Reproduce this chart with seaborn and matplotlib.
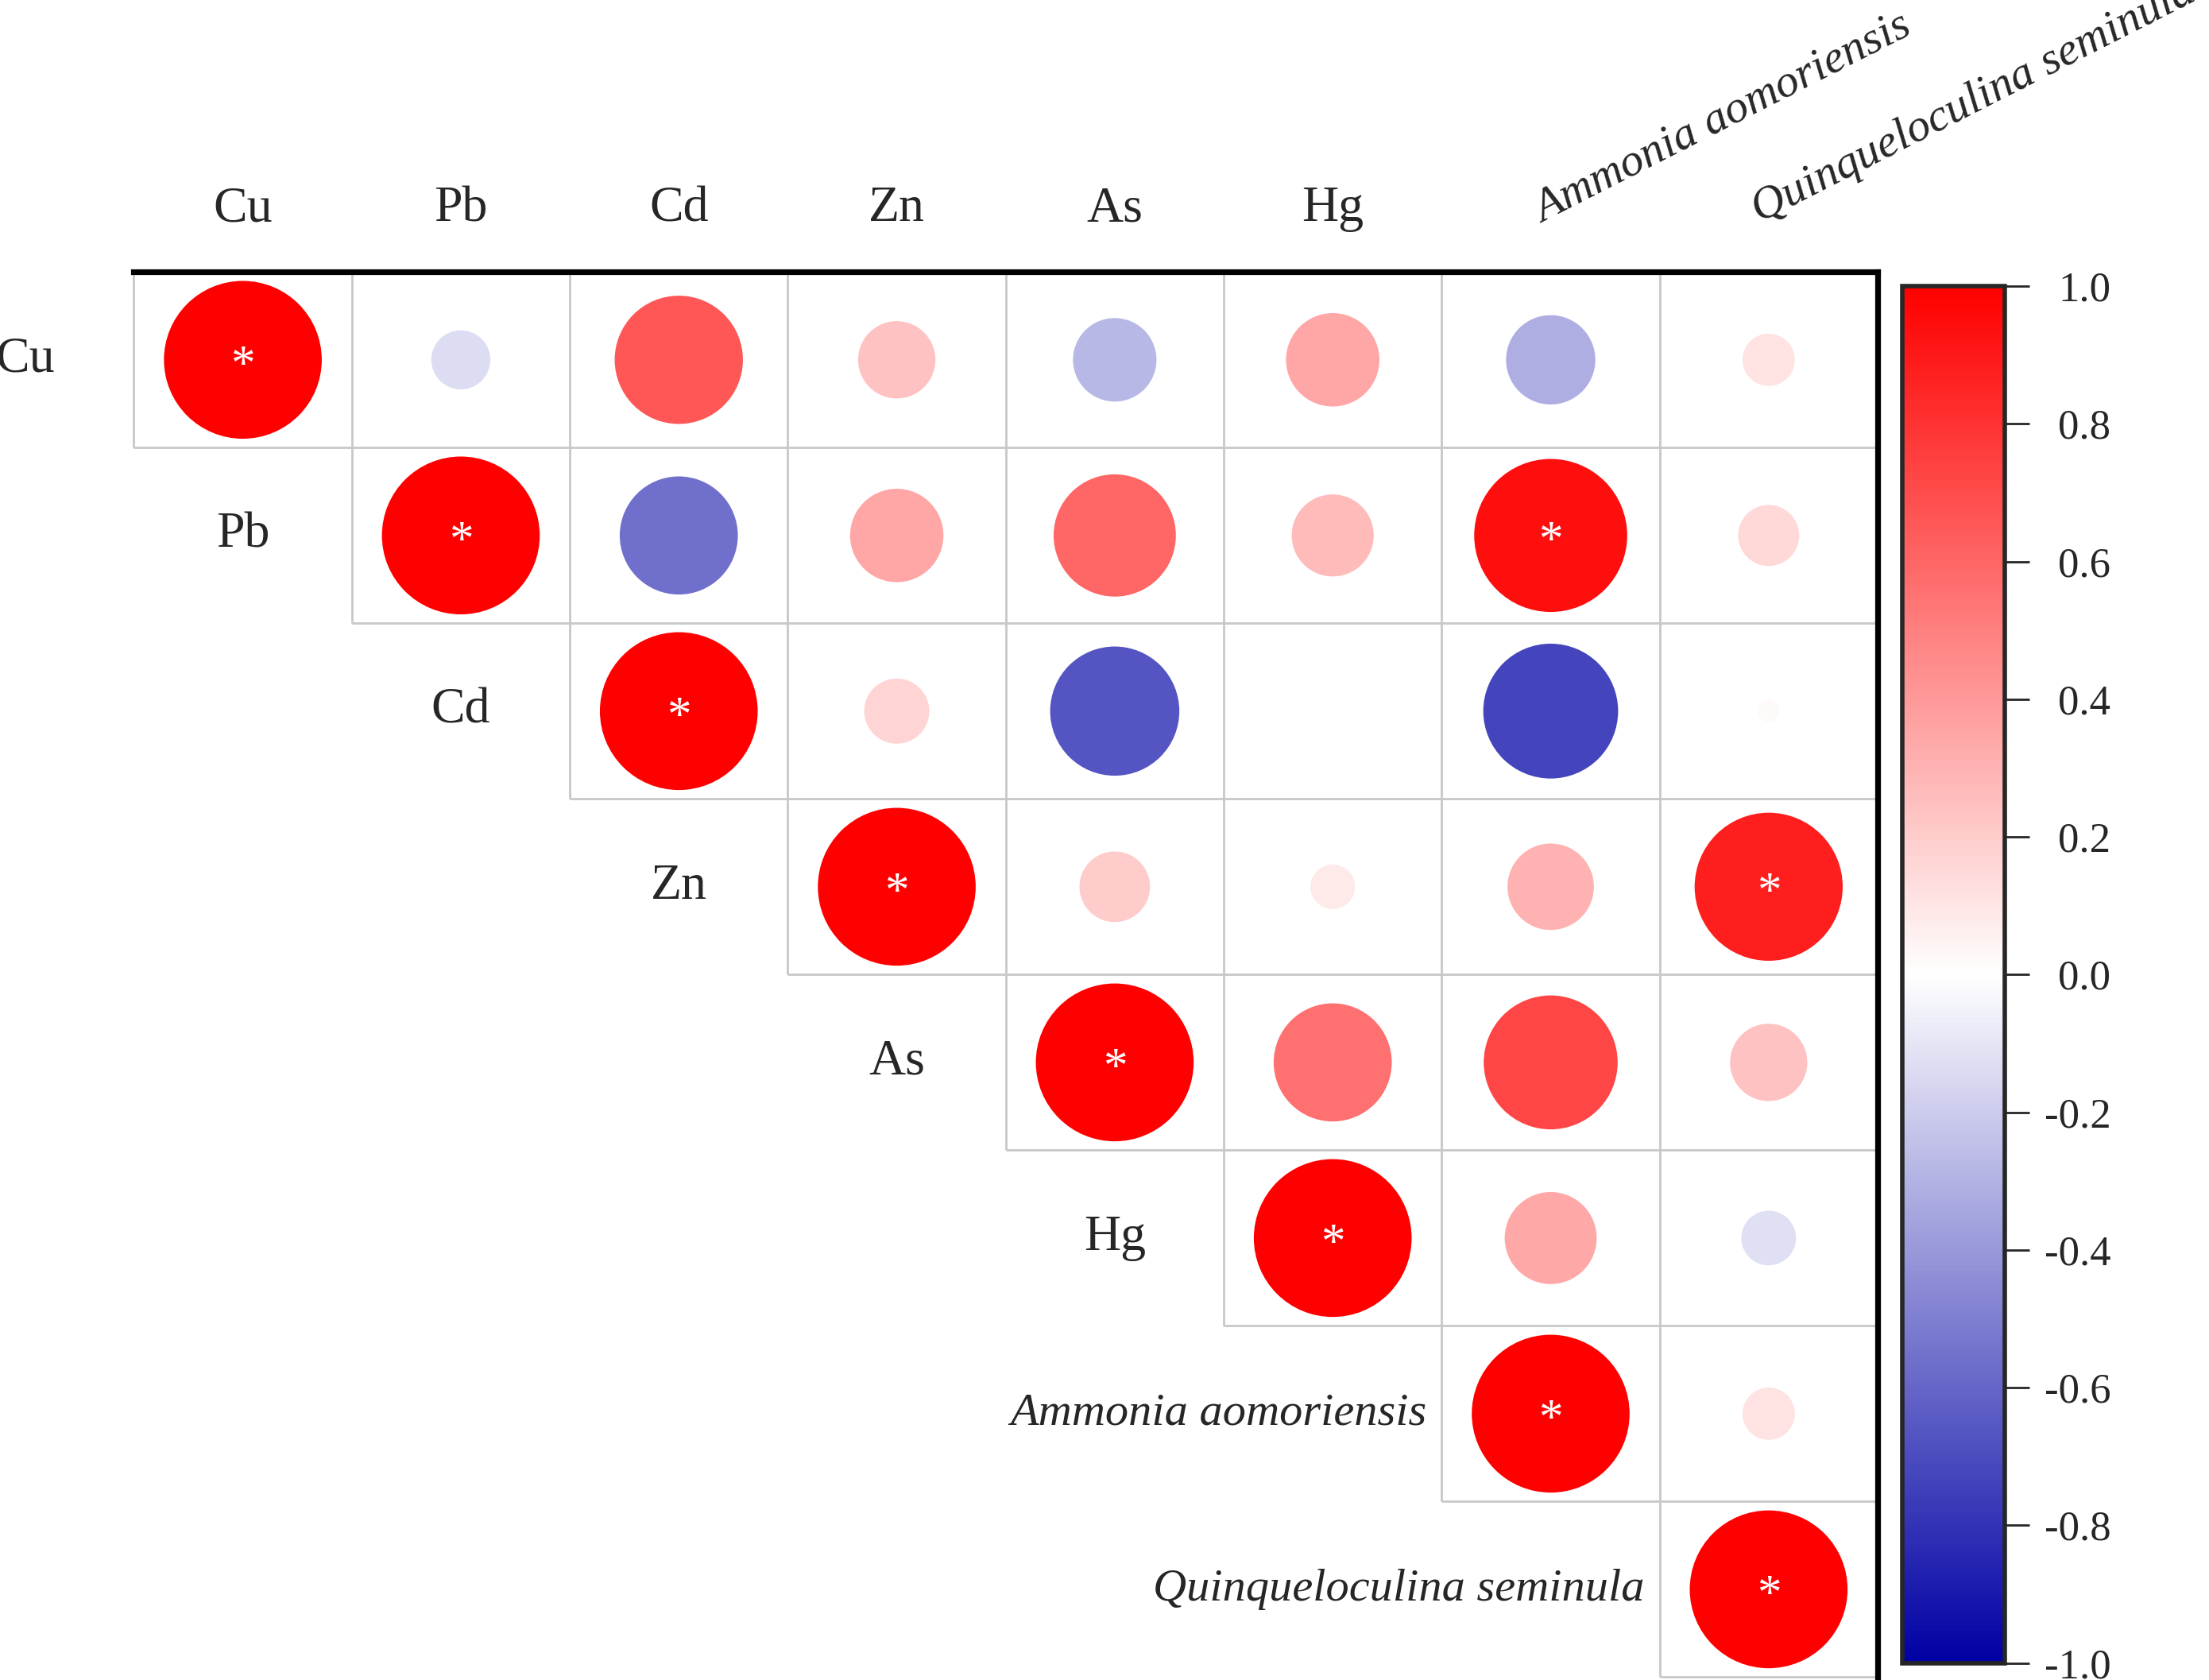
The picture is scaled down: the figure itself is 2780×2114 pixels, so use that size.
import numpy as np
import pandas as pd
import matplotlib
import matplotlib.pyplot as plt
import seaborn as sns
from matplotlib.colors import LinearSegmentedColormap, Normalize

# Variables (rows / columns of the correlation matrix)
names = ["Cu", "Pb", "Cd", "Zn", "As", "Hg",
         "Ammonia aomoriensis", "Quinqueloculina seminula"]
italic = [False, False, False, False, False, False, True, True]

# Upper triangle of the correlation matrix, row by row (diagonal first)
r_cu = [1.00, -0.14, 0.66, 0.24, -0.28, 0.35, -0.32, 0.11]
r_pb = [1.00, -0.56, 0.35, 0.60, 0.27, 0.94, 0.15]
r_cd = [1.00, 0.17, -0.67, 0.00, -0.73, 0.02]
r_zn = [1.00, 0.20, 0.08, 0.30, 0.88]
r_as = [1.00, 0.56, 0.72, 0.24]
r_hg = [1.00, 0.34, -0.12]
r_amm = [1.00, 0.11]
r_qui = [1.00]

# Significant pairs (row, column) marked with *
signif = [(0, 0), (1, 1), (2, 2), (3, 3), (4, 4), (5, 5), (6, 6), (7, 7),
          (1, 6), (3, 7)]

cb_ticks = [1.0, 0.8, 0.6, 0.4, 0.2, 0.0, -0.2, -0.4, -0.6, -0.8, -1.0]

# Build long table
rows = [r_cu, r_pb, r_cd, r_zn, r_as, r_hg, r_amm, r_qui]
recs = []
for i, vals in enumerate(rows):
    for k, v in enumerate(vals):
        j = i + k
        recs.append({"row": i, "col": j, "r": v, "absr": abs(v)})
df = pd.DataFrame(recs)

sns.set_style("white")
plt.rcParams['font.family'] = ['Liberation Serif', 'DejaVu Serif']
plt.rcParams['axes.unicode_minus'] = False

cmap = LinearSegmentedColormap.from_list("rwb", ["#0000A4", "#FFFFFF", "#FF0000"], N=256)

fig = plt.figure(figsize=(13.9, 10.57), dpi=200)
ax = fig.add_axes([0.0606, 0.0017, 0.7894, 0.8364])

n = len(names)

# Light grid lines for the upper triangle cells
for i in range(n):
    ax.hlines(i + 0.5, i - 0.5, n - 0.5, color="#C8C8C8", lw=1.0, zorder=1, clip_on=False)
for j in range(n):
    ax.vlines(j - 0.5, -0.5, j + 0.5, color="#C8C8C8", lw=1.0, zorder=1, clip_on=False)

sns.scatterplot(data=df, x="col", y="row", hue="r", size="absr",
                palette=cmap, hue_norm=(-1, 1), sizes=(0, 5112), size_norm=(0, 1),
                linewidth=0, legend=False, ax=ax, zorder=2)

ax.set_xlim(-0.5, n - 0.5)
ax.set_ylim(n - 0.5, -0.5)
ax.set_xticks([])
ax.set_yticks([])
ax.set_xlabel("")
ax.set_ylabel("")
for side in ["left", "bottom"]:
    ax.spines[side].set_visible(False)
for side in ["top", "right"]:
    ax.spines[side].set_linewidth(2.6)
    ax.spines[side].set_color("black")

# Significance stars
for (i, j) in signif:
    ax.text(j, i + 0.04, "*", color="white", fontsize=22, ha="center", va="center", zorder=3)

# Top labels
for j, name in enumerate(names):
    if italic[j]:
        ax.text(j - 0.04, -0.78, name, fontsize=21, style="italic", rotation=27,
                rotation_mode="anchor", ha="left", va="baseline", clip_on=False)
    else:
        ax.text(j, -0.79, name, fontsize=23, ha="center",
                va="baseline", clip_on=False)

# Row labels along the diagonal
for i, name in enumerate(names):
    if italic[i]:
        ax.text(i - 0.57, i, name, fontsize=21, style="italic", ha="right",
                va="center", clip_on=False)
    else:
        ax.text(i - 1, i, name, fontsize=23, ha="center",
                va="center", clip_on=False)

# Colorbar
cax = fig.add_axes([0.861, 0.0101, 0.0465, 0.8196])
sm = matplotlib.cm.ScalarMappable(norm=Normalize(-1, 1), cmap=cmap)
cb = fig.colorbar(sm, cax=cax, ticks=cb_ticks)
cb.outline.set_linewidth(2.0)
cb.ax.set_yticklabels([f"{t:.1f}" for t in cb_ticks])
cb.ax.tick_params(length=11, width=1.0, labelsize=19, pad=37)
for lab in cb.ax.get_yticklabels():
    lab.set_horizontalalignment("right")

fig.savefig("out.png", dpi=200)
